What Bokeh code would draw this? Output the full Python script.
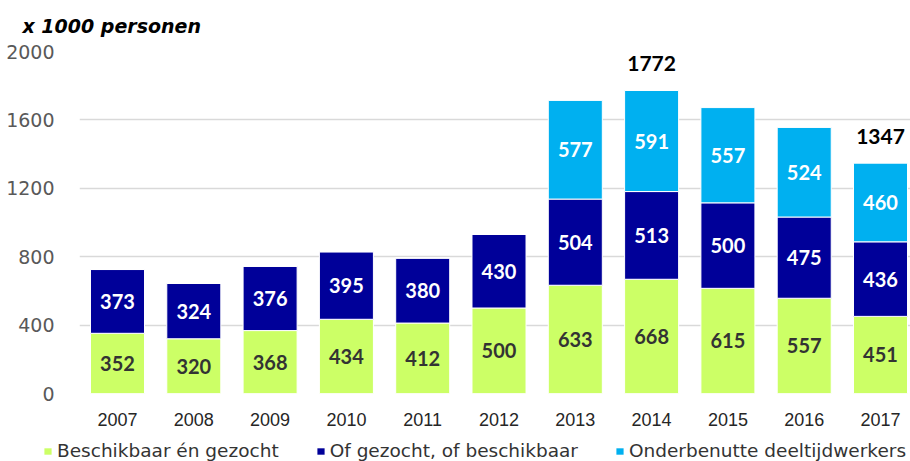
from bokeh.plotting import figure
from bokeh.layouts import column, row
from bokeh.models import ColumnDataSource, Range1d, FixedTicker, Legend, LegendItem
from bokeh.core.properties import value
from bokeh.embed import file_html
from bokeh.resources import INLINE

years = [2007, 2008, 2009, 2010, 2011, 2012, 2013, 2014, 2015, 2016, 2017]
year_labels = ["2007", "2008", "2009", "2010", "2011", "2012", "2013", "2014", "2015", "2016", "2017"]
beschikbaar_en_gezocht = [352, 320, 368, 434, 412, 500, 633, 668, 615, 557, 451]
gezocht_of_beschikbaar = [373, 324, 376, 395, 380, 430, 504, 513, 500, 475, 436]
deeltijdwerkers = [0, 0, 0, 0, 0, 0, 577, 591, 557, 524, 460]
series_names = ["Beschikbaar én gezocht", "Of gezocht, of beschikbaar", "Onderbenutte deeltijdwerkers"]
colors = ["#CCFF66", "#000099", "#00B0F0"]
label_colors = ["#333333", "#FFFFFF", "#FFFFFF"]
total_years = [2014, 2017]
y_ticks = [0, 400, 800, 1200, 1600, 2000]
unit_title = "x 1000 personen"

src = ColumnDataSource(dict(year=years, s0=beschikbaar_en_gezocht, s1=gezocht_of_beschikbaar, s2=deeltijdwerkers))

p = figure(width=910, height=430, output_backend="svg", toolbar_location=None,
           x_range=Range1d(2006.502, 2017.393), y_range=Range1d(0, 2000),
           min_border_left=79, min_border_right=0, min_border_top=51, min_border_bottom=37)
p.outline_line_color = None
p.background_fill_color = "white"

renderers = p.vbar_stack(["s0", "s1", "s2"], x="year", width=0.708, source=src,
                         color=colors, line_color="white", line_width=1)

# segment labels
series = [beschikbaar_en_gezocht, gezocht_of_beschikbaar, deeltijdwerkers]
base = [0] * len(years)
for k, vals in enumerate(series):
    xs, ys, ts = [], [], []
    for i, v in enumerate(vals):
        if v > 0:
            xs.append(years[i]); ys.append(base[i] + v / 2); ts.append(str(v))
        base[i] += v
    p.text(x=xs, y=ys, text=ts, text_align="center", text_baseline="middle",
           text_color=label_colors[k], text_font=value("Lato"), text_font_style="bold",
           text_font_size="20px")

# totals
tx = [y for y in total_years]
ty = [base[years.index(y)] for y in total_years]
tt = [str(v) for v in ty]
p.text(x=tx, y=ty, text=tt, text_align="center", text_baseline="bottom", y_offset=-19,
       text_color="#000000", text_font=value("Lato"), text_font_style="bold", text_font_size="21px")

# axes
p.xaxis.ticker = FixedTicker(ticks=years)
p.xaxis.major_label_overrides = {y: l for y, l in zip(years, year_labels)}
p.xaxis.axis_line_color = None
p.xaxis.major_tick_line_color = None
p.xaxis.minor_tick_line_color = None
p.xaxis.major_label_standoff = 13
p.xaxis.major_label_text_font = "Liberation Sans"
p.xaxis.major_label_text_font_size = "18px"
p.xaxis.major_label_text_color = "#262626"

p.yaxis.ticker = FixedTicker(ticks=y_ticks)
p.yaxis.axis_line_color = None
p.yaxis.major_tick_line_color = None
p.yaxis.minor_tick_line_color = None
p.yaxis.major_label_standoff = 19
p.yaxis.major_label_text_font = "DejaVu Sans"
p.yaxis.major_label_text_font_size = "19px"
p.yaxis.major_label_text_color = "#595959"

p.xgrid.grid_line_color = None
p.ygrid.grid_line_color = "#D9D9D9"
p.ygrid.grid_line_width = 1.5

# title
p.title.text = unit_title
p.title.align = "left"
p.title.vertical_align = "top"
p.title.offset = -57
p.title.standoff = 26
p.title.text_font = "DejaVu Sans"
p.title.text_font_style = "bold italic"
p.title.text_font_size = "19px"
p.title.text_color = "#000000"

# legend strip
lf = figure(width=910, height=31, output_backend="svg", toolbar_location=None,
            x_range=Range1d(0, 1), y_range=Range1d(0, 1), x_axis_type=None, y_axis_type=None,
            min_border_left=0, min_border_right=0, min_border_top=0, min_border_bottom=0)
lf.outline_line_color = None
lf.grid.grid_line_color = None
keys = [lf.vbar(x=[0.5], top=[0], width=0.1, fill_color=c, line_alpha=0) for c in colors]
legend = Legend(items=[LegendItem(label=n, renderers=[r]) for n, r in zip(series_names, keys)],
                location=(43, 0), orientation="horizontal", padding=0, margin=0,
                spacing=37, label_standoff=5, glyph_width=9, glyph_height=8,
                label_height=20, label_text_font="DejaVu Sans", label_text_font_size="18.5px",
                label_text_color="#333333", border_line_color=None, background_fill_alpha=0)
lf.add_layout(legend)

open("out.html", "w").write(file_html(column(p, row(lf, spacing=0), spacing=0), INLINE))
